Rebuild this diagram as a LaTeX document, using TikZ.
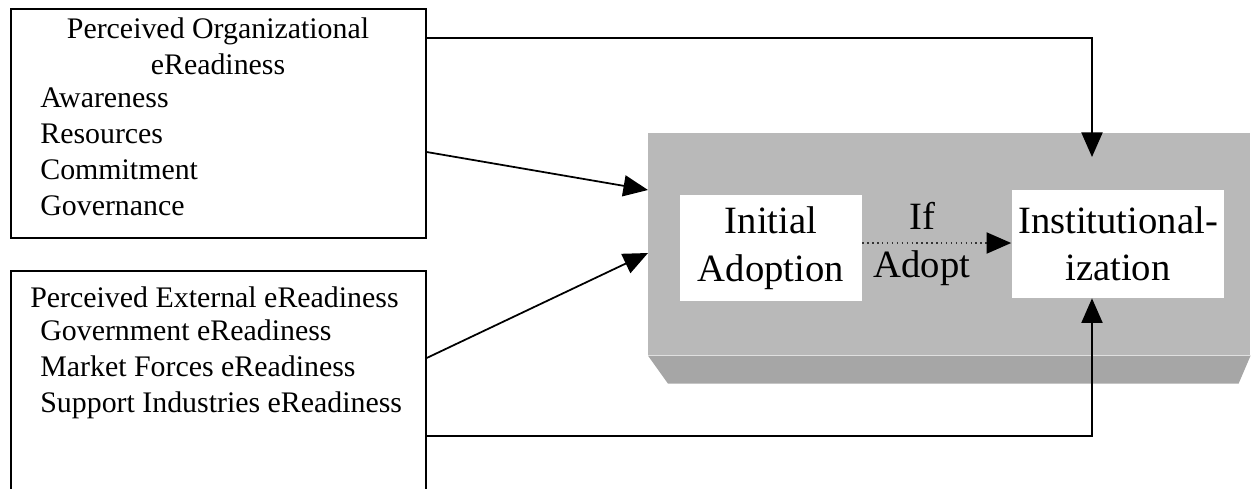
\documentclass[tikz,border=0pt]{standalone}
\usepackage{fontspec}
\setmainfont{Liberation Serif}
\usetikzlibrary{arrows.meta,calc}

\tikzset{
  panel/.style={draw, line width=1pt, anchor=north west, inner sep=0pt},
  whitebox/.style={fill=white, inner sep=0pt, align=center, font=\fontsize{22}{27}\selectfont},
  arr/.style={line width=1pt, -{Triangle[length=14pt,width=12pt]}},
  txt/.style={font=\fontsize{17}{20.5}\selectfont, inner sep=0pt}
}

\begin{document}
\begin{tikzpicture}[x=0.02cm, y=-0.02cm]
  \clip (0,0) rectangle (1252,488);

  % left side boxes
  \node[panel, minimum width=8.3cm, minimum height=4.58cm] (org) at (10,8) {};
  \node[panel, minimum width=8.3cm, minimum height=4.8cm] (ext) at (10,270) {};

  \node[txt, align=center] (orgtitle) at (218,46) {Perceived Organizational\\eReadiness};
  \node[txt, align=left, anchor=north west] (orgitems) at (40,87) {Awareness\\Resources\\Commitment\\Governance};
  \node[txt, anchor=west] (exttitle) at (30,297) {Perceived External eReadiness};
  \node[txt, align=left, anchor=north west] (extitems) at (40,319) {Government eReadiness\\Market Forces eReadiness\\Support Industries eReadiness};

  % gray stage
  \node[fill=gray!55, minimum width=12.04cm, minimum height=4.44cm, anchor=north west, inner sep=0pt] (stage) at (648,133) {};
  \fill[gray!70] (stage.south west) -- (stage.south east) -- ++(-12,28) -- ($(stage.south west)+(20,28)$) -- cycle;

  \node[whitebox, minimum width=3.64cm, minimum height=2.14cm] (init) at (771,248) {Initial\\Adoption};
  \node[whitebox, minimum width=4.26cm, minimum height=2.16cm] (inst) at (1118,244) {Institutional-\\ization};
  \node[font=\fontsize{22}{27}\selectfont, align=center, inner sep=0pt] (ifadopt) at (922,244) {If\\Adopt};

  % connectors
  \coordinate (topin) at (1092,157);
  \coordinate (midup) at (stage.west |- 0,190);
  \coordinate (midlow) at (stage.west |- 0,253);
  \draw[arr] (org.east |- 0,38) -- (topin |- 0,38) -- (topin);
  \draw[arr] (org.east |- 0,152) -- (midup);
  \draw[arr] (ext.east |- 0,358) -- (midlow);
  \draw[arr] (ext.east |- 0,436) -- (topin |- 0,436) -- (topin |- inst.south);
  \draw[line width=0.8pt, dotted, gray!40!black] (init.east |- 0,243) -- ($(inst.west |- 0,243)+(-20,0)$);
  \draw[arr] ($(inst.west |- 0,243)+(-22,0)$) -- (inst.west |- 0,243);
\end{tikzpicture}
\end{document}
